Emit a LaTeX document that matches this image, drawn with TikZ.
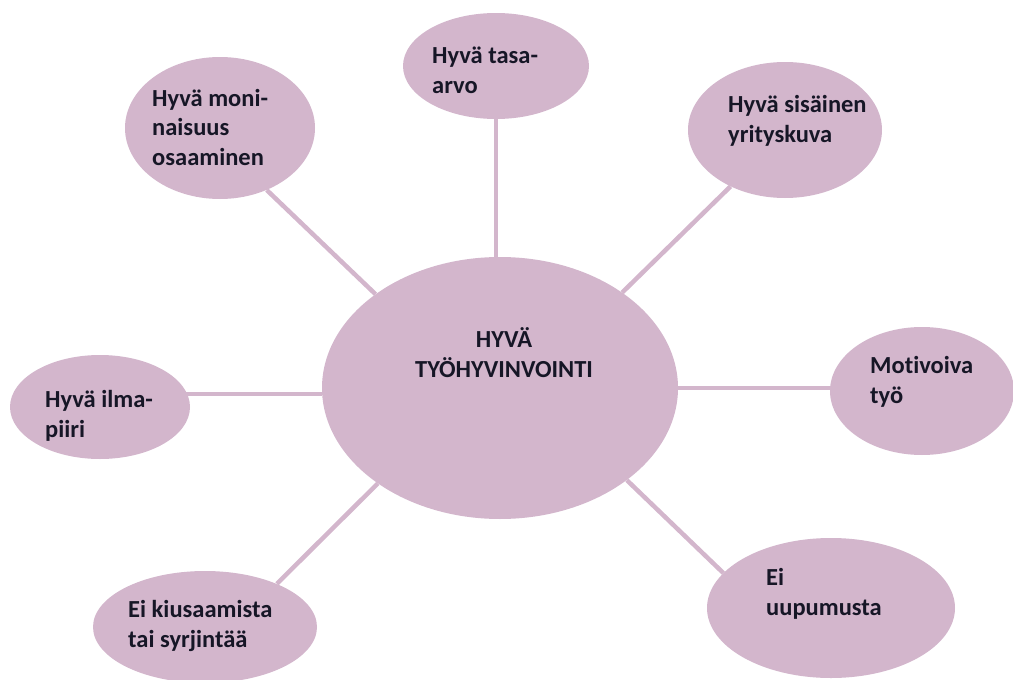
\documentclass[tikz,border=0pt]{standalone}
\usepackage{fontspec}
\setmainfont{Carlito}[Ligatures=NoCommon]
\usetikzlibrary{shapes.geometric,backgrounds}
\definecolor{bub}{RGB}{211,182,204}
\definecolor{ink}{RGB}{22,22,38}
\tikzset{
  bubble/.style={ellipse,fill=bub,draw=none,inner sep=0pt},
  link/.style={draw=bub,line width=4.5pt},
  lbl/.style={anchor=base west,align=left,inner sep=0pt,text=ink,
    font=\fontsize{24.5}{29.5}\selectfont\bfseries},
}
\begin{document}
\begin{tikzpicture}[x=1pt,y=-1pt]
    \useasboundingbox (0,0) rectangle (1013,680);
    \node[bubble,minimum width=356,minimum height=262] (hub) at (500,388) {};
    \node[bubble,minimum width=190,minimum height=142] (monin) at (220,128) {};
    \node[bubble,minimum width=186,minimum height=106] (tasa) at (496,66) {};
    \node[bubble,minimum width=194,minimum height=136] (kuva) at (785,130) {};
    \node[bubble,minimum width=184,minimum height=128] (motiv) at (922,391) {};
    \node[bubble,minimum width=248,minimum height=140] (uupum) at (831,608) {};
    \node[bubble,minimum width=224,minimum height=112] (kiusa) at (205,627) {};
    \node[bubble,minimum width=180,minimum height=104] (ilma) at (100,407) {};
    \begin{scope}[on background layer]
     \draw[link] (hub.143) -- (monin.-53);
     \draw[link] (tasa) -- (tasa |- hub);
     \draw[link] (hub.38) -- (kuva.-134);
     \draw[link] (hub) -- (hub -| motiv);
     \draw[link] (hub.-36) -- (uupum.162);
     \draw[link] (hub.-142) -- (kiusa.31);
     \draw[link] (hub.182) -- (hub.182 -| ilma);
    \end{scope}
    \node[lbl,anchor=base,align=center] (thub) at (504,377) {HYVÄ\\TYÖHYVINVOINTI};
    \node[lbl] (tmonin) at (152,165) {Hyvä moni-\\naisuus\\osaaminen};
    \node[lbl] (ttasa) at (432,93) {Hyvä tasa-\\arvo};
    \node[lbl] (tkuva) at (728,142) {Hyvä sisäinen\\yrityskuva};
    \node[lbl] (tmotiv) at (870,403) {Motivoiva\\työ};
    \node[lbl] (tuupum) at (766,615) {Ei\\uupumusta};
    \node[lbl] (tkiusa) at (128,647) {Ei kiusaamista\\tai syrjintää};
    \node[lbl] (tilma) at (45,437) {Hyvä ilma-\\piiri};
\end{tikzpicture}
\end{document}
